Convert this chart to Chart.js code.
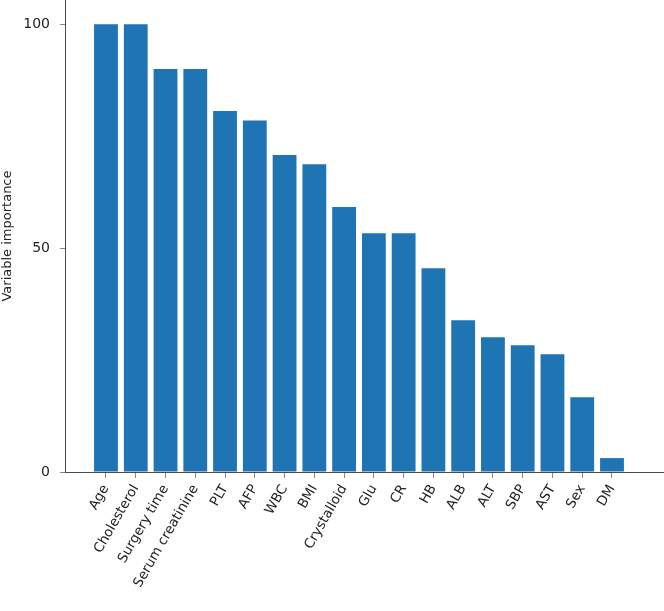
<!DOCTYPE html>
<html>
<head>
<meta charset="utf-8">
<script src="https://cdn.jsdelivr.net/npm/chart.js@4/dist/chart.umd.min.js"></script>
<style>
  html, body { margin: 0; padding: 0; background: #fff; }
  canvas { display: block; }
</style>
</head>
<body>
<canvas id="chart" width="664" height="611"></canvas>
<script>
// variables, sorted by importance
const variables = ['Age', 'Cholesterol', 'Surgery time', 'Serum creatinine', 'PLT', 'AFP',
    'WBC', 'BMI', 'Crystalloid', 'Glu', 'CR', 'HB', 'ALB', 'ALT', 'SBP', 'AST', 'Sex', 'DM'];
const importance = [100, 100, 90, 90, 80.6, 78.5, 70.8, 68.7, 59.2, 53.3, 53.3, 45.5,
    33.9, 30.1, 28.3, 26.3, 16.7, 3.1];
const yTicks = [0, 50, 100];

const barColor = '#1f74b3';
const axisColor = '#4a4a4a';
const tickColor = '#8a8a8a';
const textColor = '#222';
const fontFamily = "'DejaVu Sans', Verdana, sans-serif";

// axis ranges (x in category index units)
const xMin = -1.377, xMax = 18.747;
const yMin = 0, yMax = 105.4;

const ctx = document.getElementById('chart').getContext('2d');

new Chart(ctx, {
    type: 'bar',
    data: {
        datasets: [{
            label: 'Variable importance',
            data: importance.map((v, i) => ({ x: i, y: v })),
            backgroundColor: barColor,
            borderWidth: 0,
            barPercentage: 0.8,
            categoryPercentage: 1
        }]
    },
    options: {
        responsive: false,
        animation: false,
        devicePixelRatio: 1,
        layout: { padding: 0 },
        plugins: {
            legend: { display: false },
            tooltip: { enabled: false }
        },
        scales: {
            x: {
                type: 'linear',
                offset: false,
                bounds: 'data',
                min: xMin,
                max: xMax,
                afterBuildTicks: function(scale) {
                    // one tick per variable
                    scale.ticks = variables.map((_, i) => ({ value: i }));
                    scale.min = xMin;
                    scale.max = xMax;
                },
                afterFit: function(scale) {
                    scale.height = 139;
                    scale.paddingLeft = 0;
                    scale.paddingRight = 0;
                },
                grid: {
                    offset: false,
                    drawOnChartArea: false,
                    drawTicks: true,
                    tickLength: 6,
                    color: tickColor
                },
                border: { display: true, color: axisColor, width: 1 },
                ticks: {
                    autoSkip: false,
                    minRotation: 60,
                    maxRotation: 60,
                    padding: 4,
                    color: textColor,
                    font: { family: fontFamily, size: 13.5 },
                    callback: function(value) {
                        return variables[value];
                    }
                }
            },
            y: {
                bounds: 'data',
                min: yMin,
                max: yMax,
                afterBuildTicks: function(scale) {
                    scale.ticks = yTicks.map(v => ({ value: v }));
                    scale.min = yMin;
                    scale.max = yMax;
                },
                afterFit: function(scale) {
                    scale.width = 65;
                    scale.paddingTop = 0;
                    scale.paddingBottom = 0;
                },
                grid: {
                    drawOnChartArea: false,
                    drawTicks: true,
                    tickLength: 5,
                    color: tickColor
                },
                border: { display: true, color: axisColor, width: 1 },
                ticks: {
                    padding: 10,
                    color: textColor,
                    font: { family: fontFamily, size: 14 }
                },
                title: {
                    display: true,
                    text: 'Variable importance',
                    color: textColor,
                    padding: 0,
                    font: { family: fontFamily, size: 13 }
                }
            }
        }
    }
});
</script>
</body>
</html>
